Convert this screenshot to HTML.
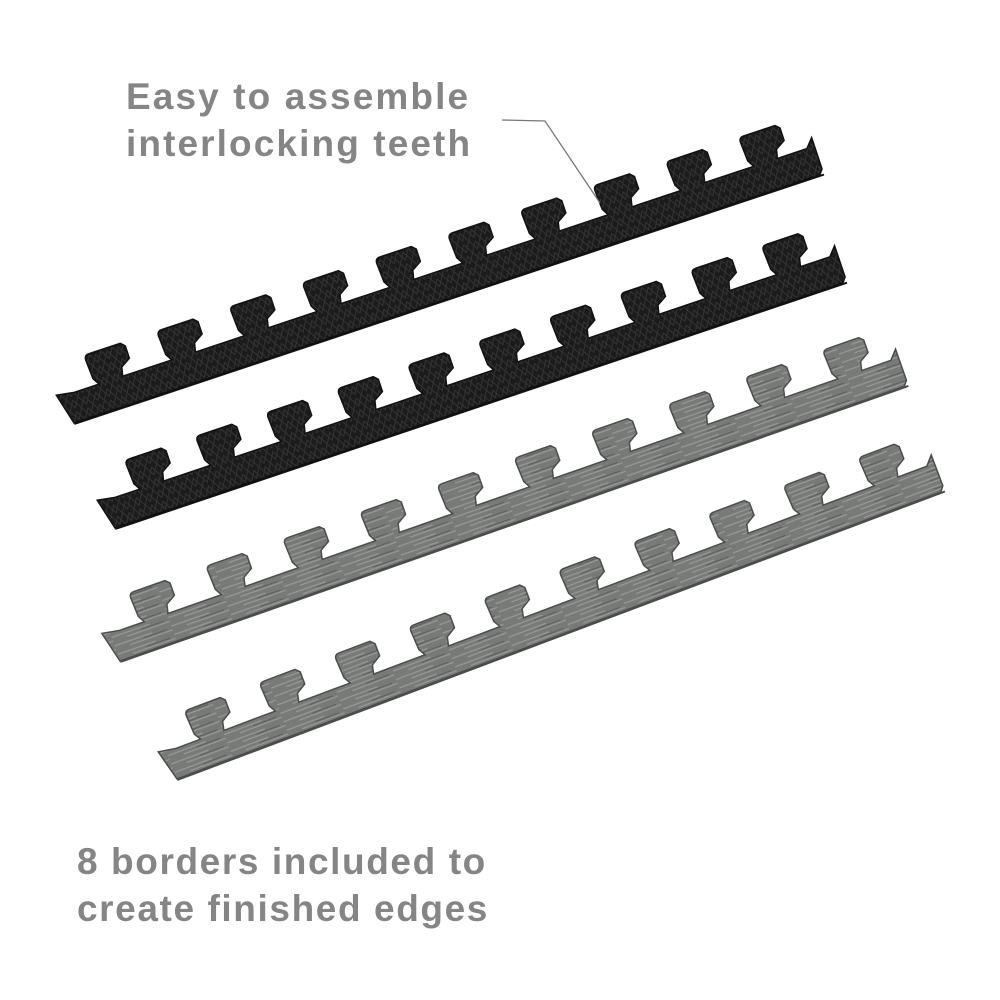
<!DOCTYPE html>
<html><head><meta charset="utf-8"><style>
html,body{margin:0;padding:0;background:#fff;width:1000px;height:1000px;overflow:hidden}
.t{position:absolute;font-family:"Liberation Sans",sans-serif;font-weight:bold;color:#858585;font-size:37px;line-height:47px}
</style></head><body>
<svg width="1000" height="1000" style="position:absolute;left:0;top:0">
<defs>
<pattern id="blk" width="12" height="12" patternUnits="userSpaceOnUse">
<rect width="12" height="12" fill="#1b1b1b"/><path d="M0 0L6 10L12 0M0 12L6 2L12 12" stroke="#343434" stroke-width="1" fill="none"/>
</pattern>
<pattern id="wd" width="60" height="9" patternUnits="userSpaceOnUse">
<rect width="60" height="9" fill="#777a77"/><path d="M0 2H40M15 6H60" stroke="#969996" stroke-width="1.2"/><path d="M30 4H55" stroke="#5c5f5d" stroke-width="1"/>
</pattern>
</defs>
<g id="strips"></g>
<polyline points="502,120 545,121 600,203" fill="none" stroke="#777" stroke-width="1.3"/>
</svg>
<div class="t" style="left:126px;top:73px;letter-spacing:2.1px">Easy to assemble<br>interlocking teeth</div>
<div class="t" style="left:77px;top:838px;letter-spacing:1.6px">8 borders included to<br>create finished edges</div>
<script>
function strip(tx,ty,ang,L,n,fill,edge){
 var sp=(L-100)/(n-1), c0=52, d="M0,0 L-8,-32 L10,-29 ";
 for(var i=0;i<n;i++){var c=c0+i*sp;
  d+="L"+(c-16)+",-29 L"+(c-20)+",-36 L"+(c-21)+",-56 Q"+(c-21)+",-61 "+(c-16)+",-61 L"+(c+17)+",-61 L"+(c+21)+",-57 L"+(c+21)+",-44 L"+(c+11)+",-38 L"+(c+9)+",-29 ";}
 d+="L"+(L-8)+",-29 L"+(L)+",-38 L"+L+",-5 L"+(L-4)+",0 Z";
 var g=document.getElementById("strips");
 g.innerHTML+='<g transform="translate('+tx+','+ty+') rotate('+ang+')"><path d="'+d+'" fill="'+fill+'" stroke="'+edge+'" stroke-width="1.5"/><line x1="0" y1="1" x2="'+L+'" y2="1" stroke="'+edge+'" stroke-width="2"/></g>';
}
strip(74,423,-18.4,790,10,"url(#blk)","#111");
strip(115,528,-18.6,772,10,"url(#blk)","#111");
strip(120,661,-19.3,835,10,"url(#wd)","#4a4d4b");
strip(177,779,-20.6,820,10,"url(#wd)","#4a4d4b");
</script>
</body></html>
